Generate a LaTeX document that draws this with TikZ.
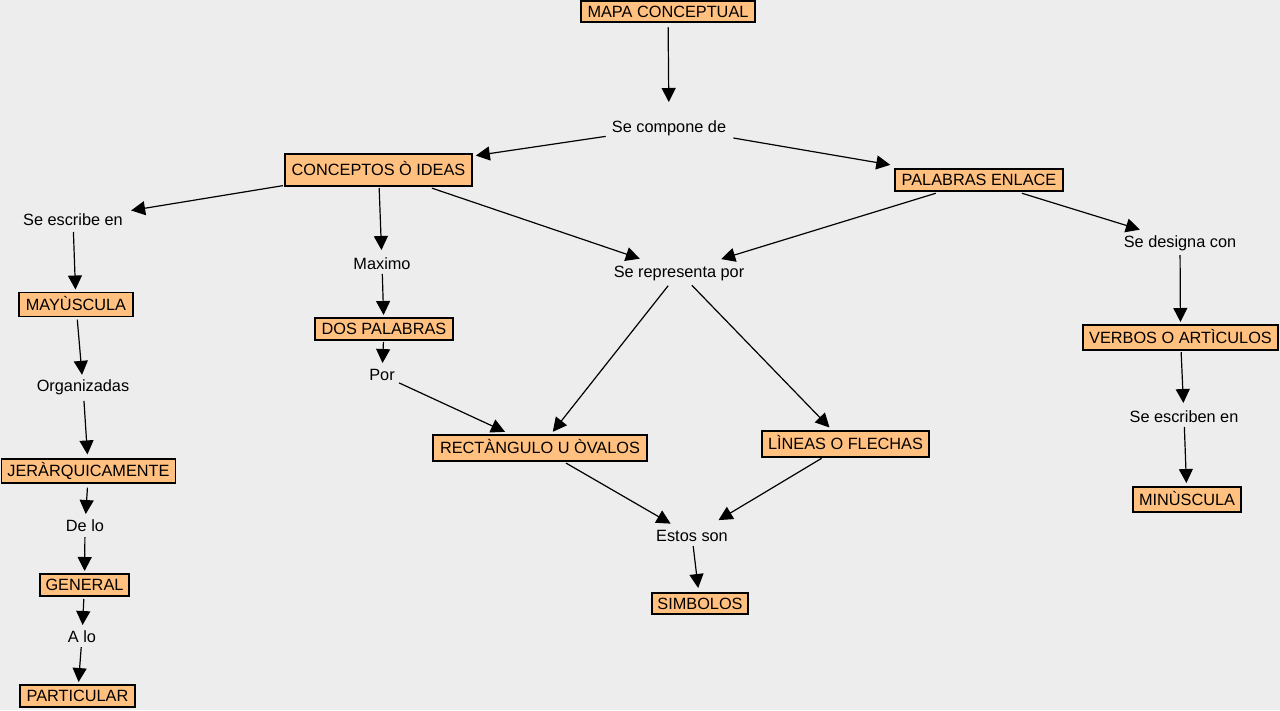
\documentclass[tikz,border=0pt]{standalone}
\usepackage{fontspec}
\setmainfont{Liberation Sans}
\usetikzlibrary{arrows.meta}
\definecolor{bg}{RGB}{236,237,236}
\definecolor{boxfill}{RGB}{255,192,128}
\newcommand\mapfont{\fontsize{16.3}{19}\selectfont}
\tikzset{
  concept/.style={draw=black, line width=1.3pt, fill=boxfill, inner sep=0pt,
    font=\mapfont, text height=11.7pt, text depth=0pt, align=center},
  phrase/.style={inner sep=0pt, font=\mapfont, text height=11.7pt, text depth=0pt},
  link/.style={line width=1.2pt, -{Triangle[length=14pt,width=14pt]}},
}
\begin{document}
\begin{tikzpicture}[x=1pt,y=-1pt]
\path[fill=bg] (0,0) rectangle (1280,710);
\useasboundingbox (0,0) rectangle (1280,710);
% concepts
\node[concept, minimum width=174pt, minimum height=21pt] (mapa) at (668,11.5) {MAPA CONCEPTUAL};
\node[concept, minimum width=187pt, minimum height=32pt] (conceptos) at (378.5,170) {CONCEPTOS Ò IDEAS};
\node[concept, minimum width=168pt, minimum height=22pt] (palabras) at (979,180) {PALABRAS ENLACE};
\node[concept, minimum width=114pt, minimum height=24pt] (mayus) at (76,304.5) {MAYÙSCULA};
\node[concept, minimum width=174pt, minimum height=24pt] (jerar) at (88.5,471) {JERÀRQUICAMENTE};
\node[concept, minimum width=89pt, minimum height=22pt] (general) at (84.5,585) {GENERAL};
\node[concept, minimum width=115pt, minimum height=22pt] (particular) at (77.5,696) {PARTICULAR};
\node[concept, minimum width=138pt, minimum height=22pt] (dos) at (384,329) {DOS PALABRAS};
\node[concept, minimum width=214pt, minimum height=26pt] (rect) at (540,448) {RECTÀNGULO U ÒVALOS};
\node[concept, minimum width=167pt, minimum height=26pt] (lineas) at (845.5,444) {LÌNEAS O FLECHAS};
\node[concept, minimum width=96pt, minimum height=21pt] (simbolos) at (700,603.5) {SIMBOLOS};
\node[concept, minimum width=195pt, minimum height=25pt] (verbos) at (1180.5,337.5) {VERBOS O ARTÌCULOS};
\node[concept, minimum width=108pt, minimum height=25pt] (minus) at (1187,499.5) {MINÙSCULA};
% linking phrases
\node[phrase] (compone) at (669,127) {Se compone de};
\node[phrase] (escribe) at (73,220) {Se escribe en};
\node[phrase] (designa) at (1180,242) {Se designa con};
\node[phrase] (maximo) at (382,264) {Maximo};
\node[phrase] (por) at (382,375) {Por};
\node[phrase] (organizadas) at (83,386) {Organizadas};
\node[phrase] (delo) at (85,526) {De lo};
\node[phrase] (alo) at (82,637) {A lo};
\node[phrase] (representa) at (679,272) {Se representa por};
\node[phrase] (estos) at (692,536) {Estos son};
\node[phrase] (escriben) at (1184,417) {Se escriben en};
% connectors
\draw[link, shorten <=15.5pt, shorten >=25pt] (mapa.center) -- (compone.center);
\draw[link, shorten <=64pt, shorten >=98.4pt] (compone.center) -- (conceptos.center);
\draw[link, shorten <=65.3pt, shorten >=90pt] (compone.center) -- (palabras.center);
\draw[link, shorten <=96.8pt, shorten >=58.9pt] (conceptos.center) -- (escribe.center);
\draw[link, shorten <=18pt, shorten >=14pt] (conceptos.center) -- (maximo.center);
\draw[link, shorten <=56.4pt, shorten >=41.4pt] (conceptos.center) -- (representa.center);
\draw[link, shorten <=45.2pt, shorten >=44.1pt] (palabras.center) -- (representa.center);
\draw[link, shorten <=44.9pt, shorten >=42pt] (palabras.center) -- (designa.center);
\draw[link, shorten <=12pt, shorten >=15pt] (escribe.center) -- (mayus.center);
\draw[link, shorten <=15.1pt, shorten >=11.2pt] (mayus.center) -- (organizadas.center);
\draw[link, shorten <=15pt, shorten >=16.6pt] (organizadas.center) -- (jerar.center);
\draw[link, shorten <=16.6pt, shorten >=12pt] (jerar.center) -- (delo.center);
\draw[link, shorten <=11pt, shorten >=14pt] (delo.center) -- (general.center);
\draw[link, shorten <=14pt, shorten >=12pt] (general.center) -- (alo.center);
\draw[link, shorten <=10.2pt, shorten >=14pt] (alo.center) -- (particular.center);
\draw[link, shorten <=10pt, shorten >=14pt] (maximo.center) -- (dos.center);
\draw[link, shorten <=13pt, shorten >=12pt] (dos.center) -- (por.center);
\draw[link, shorten <=18.8pt, shorten >=38.5pt] (por.center) -- (rect.center);
\draw[link, shorten <=17.5pt, shorten >=20.6pt] (representa.center) -- (rect.center);
\draw[link, shorten <=18.4pt, shorten >=23pt] (representa.center) -- (lineas.center);
\draw[link, shorten <=30pt, shorten >=24.7pt] (rect.center) -- (estos.center);
\draw[link, shorten <=27.9pt, shorten >=30.9pt] (lineas.center) -- (estos.center);
\draw[link, shorten <=10.2pt, shorten >=15.6pt] (estos.center) -- (simbolos.center);
\draw[link, shorten <=13pt, shorten >=15.5pt] (designa.center) -- (verbos.center);
\draw[link, shorten <=14.6pt, shorten >=14pt] (verbos.center) -- (escriben.center);
\draw[link, shorten <=10pt, shorten >=16.5pt] (escriben.center) -- (minus.center);
\end{tikzpicture}
\end{document}
